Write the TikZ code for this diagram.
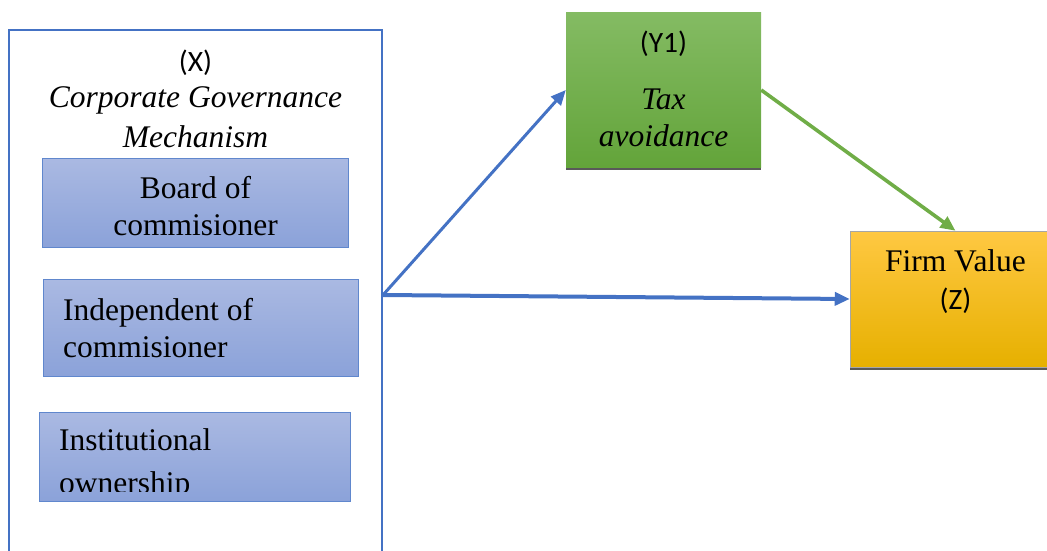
\documentclass[tikz,border=0pt]{standalone}
\usepackage{fontspec}
\setmainfont{Liberation Serif}
\newfontfamily\calibri{Carlito}
\usetikzlibrary{arrows.meta, shadows}

\definecolor{lineblue}{HTML}{4472C4}
\definecolor{boxtop}{HTML}{AAB9E2}
\definecolor{boxbottom}{HTML}{8BA2D9}
\definecolor{greentop}{HTML}{84BB63}
\definecolor{greenbottom}{HTML}{63A43A}
\definecolor{arrowgreen}{HTML}{70AD47}
\definecolor{orangetop}{HTML}{FFC842}
\definecolor{orangemid}{HTML}{FFC000}
\definecolor{orangebottom}{HTML}{E6B000}

\begin{document}
\begin{tikzpicture}[x=1pt, y=-1pt, >={Triangle[length=15pt, width=13pt]}]
				\tikzstyle{serif} = [font=\fontsize{31.5}{37}\selectfont, inner sep=0pt]
				\tikzstyle{sans} = [font=\calibri\fontsize{29.5}{34}\selectfont, inner sep=0pt]
				\tikzstyle{frame} = [draw=lineblue, line width=2pt, minimum width=373pt, minimum height=530pt]
				\tikzstyle{dim} = [draw=lineblue!85, line width=0.8pt, top color=boxtop, bottom color=boxbottom]
				\tikzstyle{shadowed} = [drop shadow={shadow xshift=0pt, shadow yshift=-2.5pt, fill=black!65, opacity=1}]
				\tikzstyle{bluelink} = [draw=lineblue, line width=3pt]
				\tikzstyle{greenlink} = [draw=arrowgreen, line width=3.6pt]
				
				\useasboundingbox (0, 0) rectangle (1047, 551);
				
				\node[frame] 	at (195.5, 295) 	(cgm) 	{};
				\node[sans] 	at (195.5, 62.5) 	(xlabel) 	{(X)};
				\node[serif, align=center, font=\fontsize{31.5}{40}\selectfont\itshape, anchor=north] 	at (195.5, 86.5) 	(cgmtitle) 	{Corporate Governance\\Mechanism};
				
				\node[dim, minimum width=306pt, minimum height=89pt] 	at (195, 202.5) 	(board) 	{};
				\node[serif, align=center, anchor=north] 	at (195.5, 176.5) 	(boardtxt) 	{Board of\\commisioner};
				
				\node[dim, minimum width=315pt, minimum height=97pt] 	at (200.5, 327.5) 	(indep) 	{};
				\node[serif, align=left, anchor=north west] 	at (63, 298.5) 	(indeptxt) 	{Independent of\\commisioner};
				
				\node[dim, minimum width=311pt, minimum height=89pt] 	at (194.5, 456.5) 	(inst) 	{};
				\begin{scope}
					\clip (inst.north west) rectangle (inst.east |- 0, 491);
					\node[serif, align=left, anchor=north west, font=\fontsize{31.5}{43}\selectfont] 	at (59, 428.5) 	(insttxt) 	{Institutional\\ownership};
				\end{scope}
				
				\node[shadowed, top color=greentop, bottom color=greenbottom, minimum width=195pt, minimum height=154pt] 	at (663.5, 90) 	(tax) 	{};
				\node[sans] 	at (663.5, 44) 	(ylabel) 	{(Y1)};
				\node[serif, align=center, anchor=north, font=\fontsize{31.5}{37}\selectfont\itshape] 	at (663.5, 88.4) 	(taxtxt) 	{Tax\\avoidance};
				
				\node[shadowed, top color=orangetop, middle color=orangemid, bottom color=orangebottom, draw=black!35, line width=0.5pt, minimum width=211pt, minimum height=136pt] 	at (955.5, 299) 	(firm) 	{};
				\node[serif] 	at (955.5, 261) 	(firmtxt) 	{Firm Value};
				\node[sans] 	at (955.5, 301) 	(zlabel) 	{(Z)};
				
				\path[->]
				(cgm.east)	edge[bluelink]	(tax.west)
				(cgm.east)	edge[bluelink, line width=4pt]	(firm.west)
				(tax.east)	edge[greenlink]	(firm.north);
				\end{tikzpicture}
\end{document}
